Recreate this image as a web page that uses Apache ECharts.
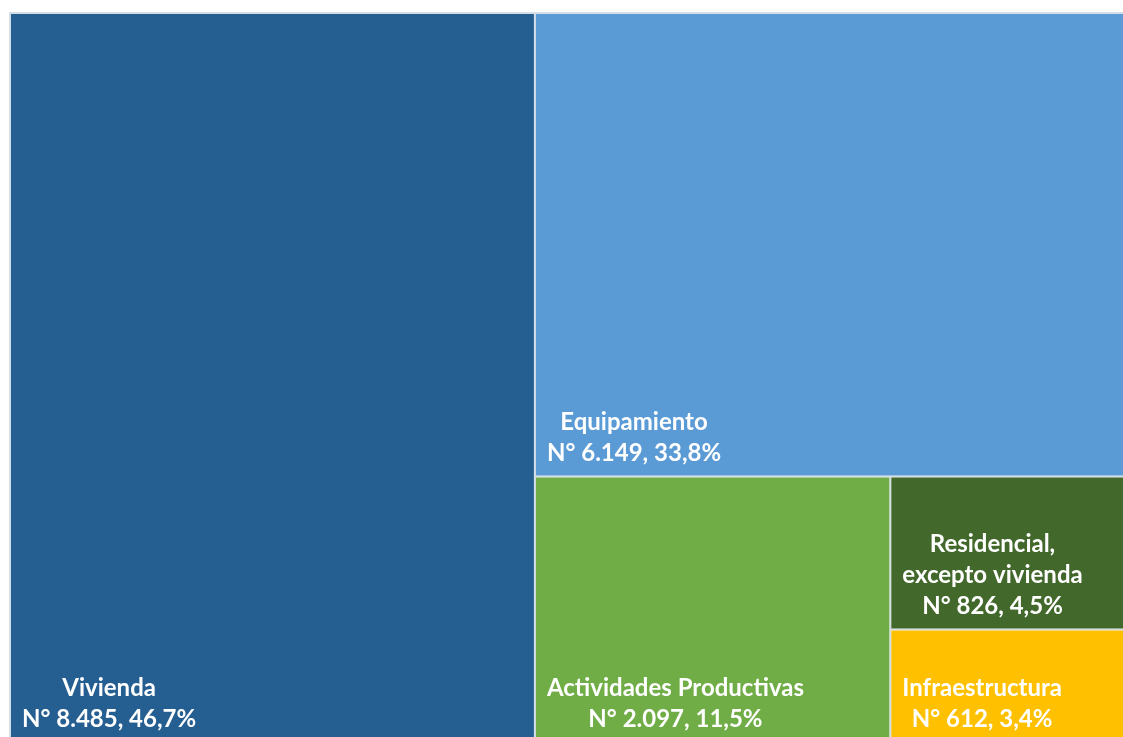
<!DOCTYPE html>
<html>
<head>
<meta charset="utf-8">
<script src="https://cdn.jsdelivr.net/npm/echarts@6/dist/echarts.min.js"></script>
<style>
  html, body { margin: 0; padding: 0; background: #fff; overflow: hidden; }
  #chart { width: 1123px; height: 737px; }
</style>
</head>
<body>
<div id="chart"></div>
<script>
// datos del gráfico
const categories = ['Vivienda', 'Equipamiento', 'Actividades Productivas', 'Residencial,\nexcepto vivienda', 'Infraestructura']
const counts = [8485, 6149, 2097, 826, 612]
const shares = [46.7, 33.8, 11.5, 4.5, 3.4]
const colors = ['#255E91', '#5B9BD5', '#70AD47', '#43682B', '#FFC000']

const labelFont = 'bold 24px Lato'

const fmtNum = n => String(n).replace(/\B(?=(\d{3})+(?!\d))/g, '.')
const fmtPct = p => p.toFixed(1).replace('.', ',') + '%'

// ancho del texto, para centrar las líneas en un bloque pegado a la izquierda
const ctx = document.createElement('canvas').getContext('2d')
ctx.font = labelFont
const textWidth = s => ctx.measureText(s).width

const seriesData = categories.map((name, i) => {
  const lines = name.split('\n').concat('N° ' + fmtNum(counts[i]) + ', ' + fmtPct(shares[i]))
  const blockW = Math.max(...lines.map(textWidth))
  return {
    name: name,
    value: counts[i],
    itemStyle: { color: colors[i] },
    label: {
      formatter: lines.join('\n'),
      offset: [blockW / 2 + 11, -7]
    }
  }
})

const myChart = echarts.init(document.getElementById('chart'))

const option = {
  animation: false,
  series: [
    {
      type: 'treemap',
      left: 9,
      top: 12,
      width: 1126,
      height: 732,
      roam: false,
      nodeClick: false,
      squareRatio: 1,
      breadcrumb: { show: false },
      levels: [
        {
          itemStyle: {
            borderColor: '#d5dde6',
            borderWidth: 2,
            gapWidth: 2
          }
        },
        {
          itemStyle: { borderWidth: 0 }
        }
      ],
      label: {
        show: true,
        position: 'insideBottomLeft',
        distance: 0,
        padding: 0,
        align: 'center',
        overflow: 'none',
        color: '#fff',
        fontFamily: 'Lato',
        fontWeight: 'bold',
        fontSize: 24,
        lineHeight: 31
      },
      data: seriesData
    }
  ]
}

myChart.setOption(option)
</script>
</body>
</html>
